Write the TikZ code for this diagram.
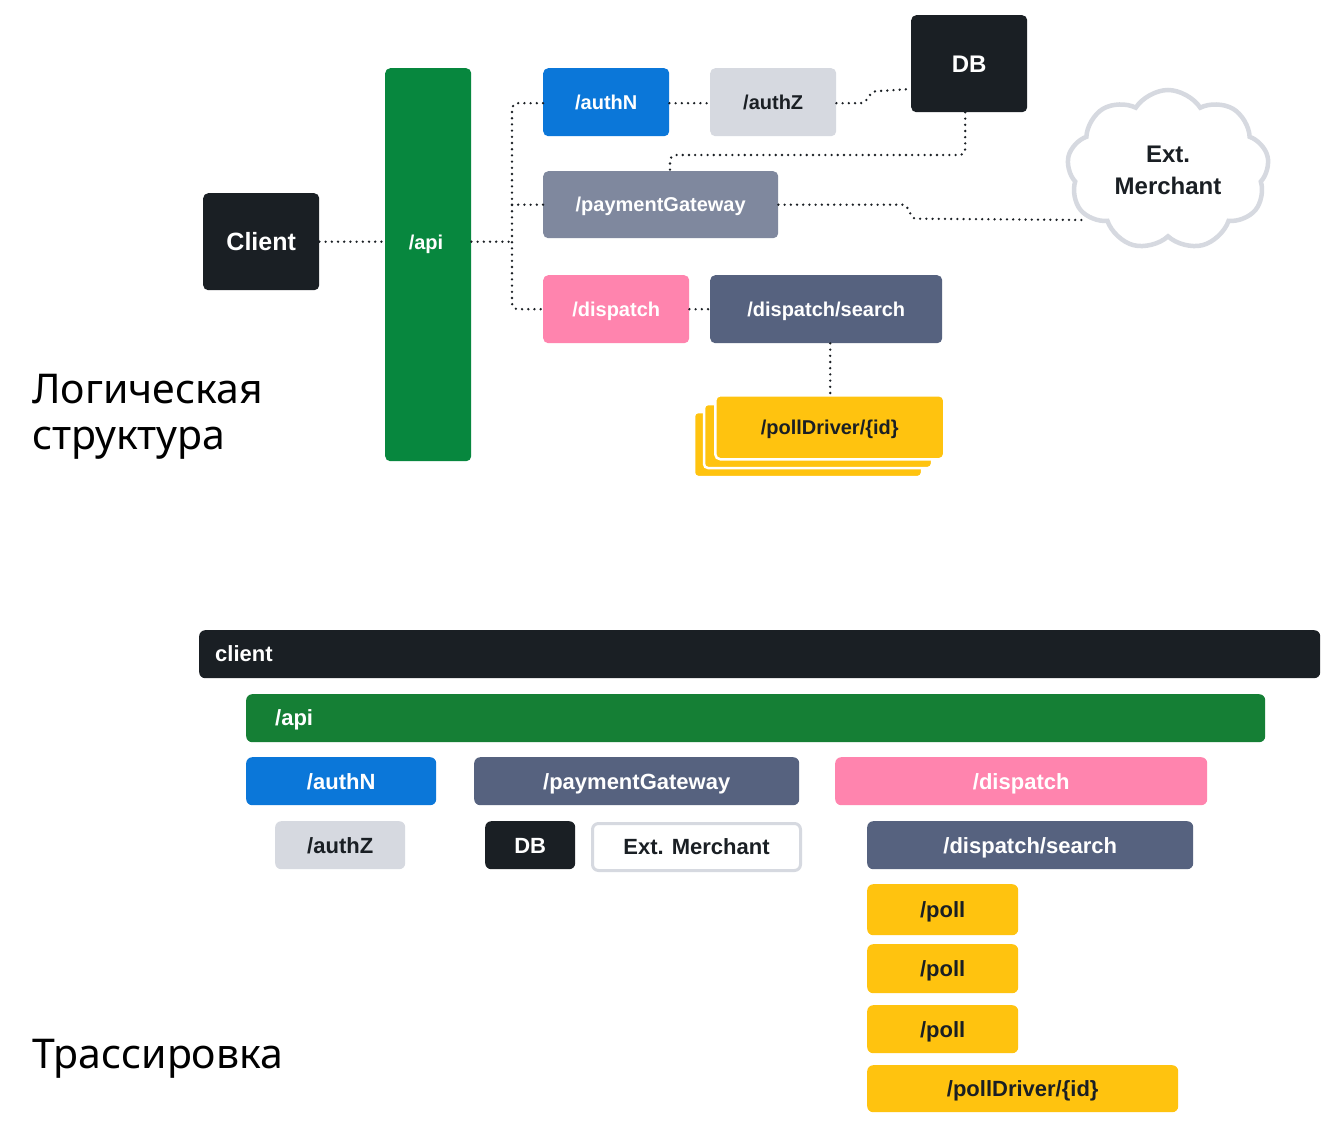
\documentclass[tikz,border=0pt]{standalone}
\usepackage{fontspec}
\usetikzlibrary{shapes.symbols}
\setmainfont{Liberation Sans}
\newfontfamily\topfont{Liberation Sans}
\newfontfamily\botfont{Liberation Sans}
\newfontfamily\rufont{Noto Sans}
\definecolor{cblack}{HTML}{1A1F24}
\definecolor{cgreen}{HTML}{07873E}
\definecolor{cgreenb}{HTML}{157F35}
\definecolor{cblue}{HTML}{0B77D9}
\definecolor{clight}{HTML}{D6D9E0}
\definecolor{cgrayblue}{HTML}{7F889E}
\definecolor{cpink}{HTML}{FF84AE}
\definecolor{cslate}{HTML}{56627F}
\definecolor{cyellow}{HTML}{FFC30F}
\tikzset{
  tbox/.style={rounded corners=5pt, inner sep=0pt, anchor=north west, text=white,
    text height=14.3pt, text depth=0pt,
    font=\topfont\bfseries\fontsize{20}{23}\selectfont},
  bbox/.style={rounded corners=6pt, inner sep=0pt, anchor=north west, text=white,
    text height=15.8pt, text depth=0pt,
    font=\botfont\bfseries\fontsize{22}{26}\selectfont},
  dotline/.style={draw=cblack, line width=2.6pt, line cap=round, dash pattern=on 0pt off 6.2pt},
  rutext/.style={anchor=north west, inner sep=0pt, align=left, text=black,
    font=\rufont\fontsize{41}{46}\selectfont},
}
\begin{document}
\begin{tikzpicture}[x=1pt,y=-1pt]
\useasboundingbox[fill=white] (0,0) rectangle (1340,1142);

% ---------- top: logical structure ----------
\node[tbox, fill=cblack, minimum width=116pt, minimum height=97pt, text height=18pt,
  font=\topfont\bfseries\fontsize{25}{28}\selectfont] (client) at (203,193) {Client};
\node[tbox, fill=cgreen, minimum width=86pt, minimum height=393pt] (api) at (385,68) {};
\node[text=white, font=\topfont\bfseries\fontsize{20}{23}\selectfont, inner sep=0pt,
  text height=14.3pt, text depth=0pt] (apilbl) at (426,242) {/api};
\node[tbox, fill=cblue, minimum width=126pt, minimum height=68pt] (authN) at (543,68) {/authN};
\node[tbox, fill=clight, text=cblack, minimum width=126pt, minimum height=68pt] (authZ) at (710,68) {/authZ};
\node[tbox, fill=cblack, minimum width=116pt, minimum height=97pt, text height=17.2pt,
  font=\topfont\bfseries\fontsize{24}{27}\selectfont] (db) at (911,15) {DB};
\node[tbox, fill=cgrayblue, minimum width=235pt, minimum height=67pt] (pg) at (543,171) {/paymentGateway};
\node[tbox, fill=cpink, minimum width=146pt, minimum height=68pt] (dispatch) at (543,275) {/dispatch};
\node[tbox, fill=cslate, minimum width=232pt, minimum height=68pt] (search) at (710,275) {/dispatch/search};
% stacked pollDriver
\fill[cyellow, draw=white, line width=2.5pt, rounded corners=4pt] (694,412) rectangle (922,477);
\fill[cyellow, draw=white, line width=2.5pt, rounded corners=4pt] (704,404) rectangle (932,468);
\node[tbox, fill=cyellow, draw=white, line width=2.5pt, text=cblack, minimum width=229pt, minimum height=64pt] (poll) at (714,394) {/pollDriver/\{id\}};
% cloud
\node[cloud, cloud puffs=9, cloud puff arc=115, aspect=1.25, draw=clight, fill=white, line width=4.5pt,
  minimum width=202pt, minimum height=160pt, inner sep=0pt, align=center, text=cblack,
  font=\topfont\bfseries\fontsize{24}{32}\selectfont] (merchant) at (1168,170) {Ext.\\Merchant};

% connectors
\coordinate (bx) at (512,0);
\coordinate (mw) at (1086,220);
\coordinate (j1) at (670,155);
\draw[dotline] (client.east) -- (client.east -| api.west);
\draw[dotline] (client.east -| api.east) -- (client.east -| bx);
\draw[dotline, rounded corners=6pt] ([yshift=-1pt]authN.west) -| (bx |- dispatch.west) -- (dispatch.west);
\draw[dotline] (bx |- pg.west) -- (pg.west);
\draw[dotline] ([yshift=-1pt]authN.east) -- ([yshift=-1pt]authZ.west);
\draw[dotline] ([yshift=-1pt]authZ.east) -- ++(24,0) to[out=0,in=180] ++(16,-12) -- (db.west |- 0,89);
\draw[dotline, rounded corners=6pt] ([xshift=-4pt]db.south) |- (j1) -- (j1 |- pg.north);
\draw[dotline] (pg.east) -- ++(124,0) to[out=0,in=180] ++(14,14) -- (mw);
\draw[dotline] (dispatch.east) -- (search.west);
\draw[dotline] ([xshift=4pt]search.south) -- ([xshift=4pt]search.south |- poll.north);

\node[rutext] (lbl1) at (32,374) {Логическая\\структура};

% ---------- bottom: tracing ----------
\node[bbox, fill=cblack, minimum width=1121pt, minimum height=48pt] (tclient) at (199,630) {};
\node[anchor=west, inner sep=0pt, text=white, text height=15.8pt, text depth=0pt,
  font=\botfont\bfseries\fontsize{22}{26}\selectfont] (tclientl) at (215,654) {client};
\node[bbox, fill=cgreenb, minimum width=1019pt, minimum height=48pt] (tapi) at (246,694) {};
\node[anchor=west, inner sep=0pt, text=white, text height=15.8pt, text depth=0pt,
  font=\botfont\bfseries\fontsize{22}{26}\selectfont] (tapil) at (275,718) {/api};
\node[bbox, fill=cblue, minimum width=190pt, minimum height=48pt] (tauthN) at (246,757) {/authN};
\node[bbox, fill=cslate, minimum width=325pt, minimum height=48pt] (tpg) at (474,757) {/paymentGateway};
\node[bbox, fill=cpink, minimum width=372pt, minimum height=48pt] (tdispatch) at (835,757) {/dispatch};
\node[bbox, fill=clight, text=cblack, minimum width=130pt, minimum height=48pt] (tauthZ) at (275,821) {/authZ};
\node[bbox, fill=cblack, minimum width=90pt, minimum height=48pt] (tdb) at (485,821) {DB};
\node[bbox, fill=white, draw=clight, line width=3pt, text=cblack, minimum width=208pt, minimum height=47pt] (tmerchant) at (591,822) {Ext. Merchant};
\node[bbox, fill=cslate, minimum width=326pt, minimum height=48pt] (tsearch) at (867,821) {/dispatch/search};
\node[bbox, fill=cyellow, text=cblack, minimum width=151pt, minimum height=51pt] (tpoll1) at (867,884) {/poll};
\node[bbox, fill=cyellow, text=cblack, minimum width=151pt, minimum height=49pt] (tpoll2) at (867,944) {/poll};
\node[bbox, fill=cyellow, text=cblack, minimum width=151pt, minimum height=48pt] (tpoll3) at (867,1005) {/poll};
\node[bbox, fill=cyellow, text=cblack, minimum width=311pt, minimum height=47pt] (tpolld) at (867,1065) {/pollDriver/\{id\}};

\node[rutext] (lbl2) at (32,1039) {Трассировка};
\end{tikzpicture}
\end{document}
